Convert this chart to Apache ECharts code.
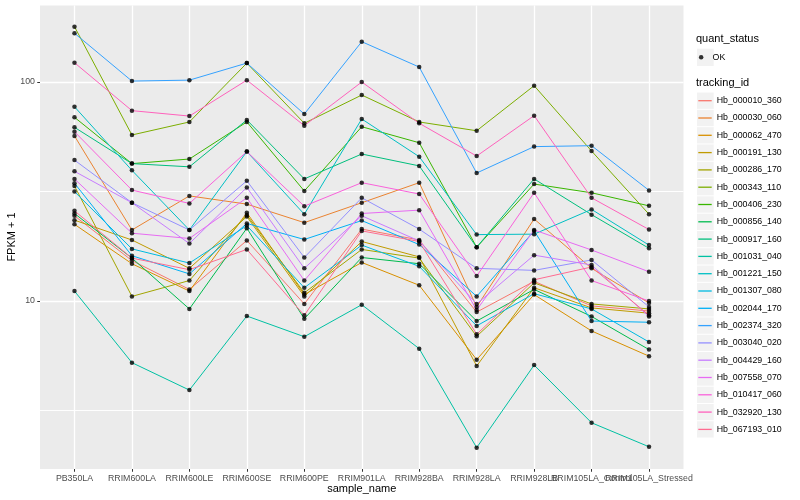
<!DOCTYPE html>
<html>
<head>
<meta charset="utf-8">
<script src="https://cdn.jsdelivr.net/npm/echarts@6/dist/echarts.min.js"></script>
<style>
html, body { margin: 0; padding: 0; background: #ffffff; }
#chart { width: 800px; height: 500px; }
</style>
</head>
<body>
<div id="chart"></div>
<script>
// ---------------- data ----------------
const categories = ["PB350LA", "RRIM600LA", "RRIM600LE", "RRIM600SE", "RRIM600PE", "RRIM901LA",
  "RRIM928BA", "RRIM928LA", "RRIM928LB", "RRIM105LA_Control", "RRIM105LA_Stressed"];

const trackingIds = ["Hb_000010_360", "Hb_000030_060", "Hb_000062_470", "Hb_000191_130", "Hb_000286_170",
  "Hb_000343_110", "Hb_000406_230", "Hb_000856_140", "Hb_000917_160", "Hb_001031_040",
  "Hb_001221_150", "Hb_001307_080", "Hb_002044_170", "Hb_002374_320", "Hb_003040_020",
  "Hb_004429_160", "Hb_007558_070", "Hb_010417_060", "Hb_032920_130", "Hb_067193_010"];

// FPKM + 1 per sample (order of categories)
const Hb_000010_360 = [24.5, 15.3, 11.3, 18.9, 9.7, 21.3, 19.0, 8.9, 12.3, 9.5, 9.0];
const Hb_000030_060 = [56.7, 21.1, 30.2, 27.7, 22.8, 28.1, 34.7, 9.4, 23.7, 14.1, 9.8];
const Hb_000062_470 = [22.4, 14.8, 11.1, 25.3, 10.7, 15.0, 11.8, 5.4, 10.7, 7.3, 5.6];
const Hb_000191_130 = [23.4, 19.0, 14.1, 24.3, 10.5, 18.7, 15.9, 5.05, 11.5, 9.3, 8.8];
const Hb_000286_170 = [33.5, 10.5, 12.4, 24.7, 10.9, 17.2, 15.7, 6.9, 12.1, 9.7, 9.2];
const Hb_000343_110 = [179, 57.3, 65.7, 122, 64.8, 87.2, 65.7, 59.9, 96.2, 48.4, 24.9];
const Hb_000406_230 = [69.0, 42.4, 44.5, 65.7, 31.8, 62.5, 52.8, 17.6, 34.2, 31.2, 27.2];
const Hb_000856_140 = [25.1, 15.7, 9.2, 21.5, 8.3, 15.8, 14.8, 8.1, 11.3, 8.5, 6.0];
const Hb_000917_160 = [62.1, 42.4, 41.0, 67.1, 36.1, 46.9, 41.4, 17.6, 36.1, 24.8, 17.4];
const Hb_001031_040 = [11.1, 5.23, 3.92, 8.54, 6.87, 9.62, 6.06, 2.14, 5.10, 2.78, 2.16];
const Hb_001221_150 = [77.1, 39.5, 21.1, 48.1, 24.9, 67.8, 45.6, 20.1, 20.2, 26.2, 18.0];
const Hb_001307_080 = [31.6, 17.3, 14.9, 22.1, 11.5, 18.0, 14.4, 7.7, 10.8, 9.2, 6.5];
const Hb_002044_170 = [34.5, 16.1, 13.3, 22.6, 19.1, 23.3, 18.1, 10.5, 20.9, 8.1, 8.0];
const Hb_002374_320 = [167, 101, 102, 122, 71.4, 152.8, 117, 38.4, 50.7, 51.2, 32.0];
const Hb_003040_020 = [44.0, 28.1, 21.1, 35.4, 15.8, 29.6, 21.3, 14.1, 13.8, 15.4, 9.4];
const Hb_004429_160 = [39.1, 28.1, 18.3, 33.0, 14.1, 24.5, 18.8, 9.7, 16.2, 14.6, 8.5];
const Hb_007558_070 = [36.1, 20.4, 19.3, 29.6, 12.4, 25.1, 26.0, 9.1, 21.1, 17.1, 13.6];
const Hb_010417_060 = [59.3, 32.1, 27.9, 48.1, 27.1, 34.7, 30.8, 13.0, 31.2, 12.4, 10.0];
const Hb_032920_130 = [122.5, 74.0, 69.9, 102, 63.2, 100, 64.8, 45.9, 70.2, 29.6, 21.2];
const Hb_067193_010 = [25.8, 15.7, 13.9, 17.2, 8.6, 20.9, 18.7, 7.05, 12.5, 14.3, 8.6];

const seriesValues = [Hb_000010_360, Hb_000030_060, Hb_000062_470, Hb_000191_130, Hb_000286_170,
  Hb_000343_110, Hb_000406_230, Hb_000856_140, Hb_000917_160, Hb_001031_040,
  Hb_001221_150, Hb_001307_080, Hb_002044_170, Hb_002374_320, Hb_003040_020,
  Hb_004429_160, Hb_007558_070, Hb_010417_060, Hb_032920_130, Hb_067193_010];

const quantStatus = ["OK"];
const yTickLabels = [10, 100];
const yMinorGrid = [Math.sqrt(10), Math.sqrt(1000)];   // ggplot minor breaks 10^0.5, 10^1.5

// ---------------- styles ----------------
const lineColors = ["#F8766D", "#EA8331", "#D89000", "#C09B00", "#A3A500", "#7CAE00", "#39B600",
  "#00BB4E", "#00BF7D", "#00C1A3", "#00BFC4", "#00BAE0", "#00B0F6", "#35A2FF", "#9590FF",
  "#C77CFF", "#E76BF3", "#FA62DB", "#FF62BC", "#FF6C91"];

const FONT = "'Liberation Sans', Arial, Helvetica, sans-serif";
const X_MIN = -0.6, X_MAX = 10.6;
const Y_MIN = 1.71, Y_MAX = 223.3;
const LEG_X = 697, LEG_STEP = 17.3, LEG_FIRST = 100.7;

const chart = echarts.init(document.getElementById('chart'), null, { renderer: 'canvas' });

// minor horizontal grid lines, drawn across the whole panel
const minorGridSeries = yMinorGrid.map((v, k) => ({
  type: 'line',
  name: '__minor_' + k,
  data: [[X_MIN, v], [X_MAX, v]],
  symbol: 'none',
  showSymbol: false,
  lineStyle: { color: '#FFFFFF', width: 1 },
  emphasis: { disabled: true },
  silent: true,
  z: 1
}));

const lineSeries = trackingIds.map((id, k) => ({
  type: 'line',
  name: id,
  data: seriesValues[k].map((v, i) => [i, v]),
  symbol: 'none',
  showSymbol: false,
  lineStyle: { color: lineColors[k], width: 1 },
  itemStyle: { color: lineColors[k] },
  emphasis: { disabled: true },
  silent: true,
  z: 2
}));

const pointData = [];
seriesValues.forEach(vals => vals.forEach((v, i) => pointData.push([i, v])));

const pointSeries = {
  type: 'scatter',
  name: quantStatus[0],
  data: pointData,
  symbol: 'circle',
  symbolSize: 4.5,
  itemStyle: { color: '#000000' },
  emphasis: { disabled: true },
  silent: true,
  z: 3
};

const allIdx = categories.map((c, i) => i);
const evenIdx = allIdx.filter(i => i % 2 === 0);
const oddIdx = allIdx.filter(i => i % 2 === 1);
const catLabel = v => { const i = Math.round(v); return categories[i] !== undefined ? categories[i] : ''; };

const keyRects = [];
keyRects.push({ type: 'rect', left: LEG_X, top: 57.3 - 8.65, shape: { width: 16.7, height: 17.3 },
  style: { fill: '#F2F2F2' }, z: 1, silent: true });
trackingIds.forEach((id, i) => {
  keyRects.push({ type: 'rect', left: LEG_X, top: LEG_FIRST + LEG_STEP * i - 8.15,
    shape: { width: 16.7, height: 16.3 }, style: { fill: '#F2F2F2' }, z: 1, silent: true });
});

const xLabelStyle = { fontSize: 8.8, color: '#4D4D4D', margin: 5, fontFamily: FONT,
  hideOverlap: false, showMinLabel: true, showMaxLabel: true, formatter: catLabel };

const option = {
  animation: false,
  backgroundColor: '#ffffff',
  textStyle: { fontFamily: FONT },
  grid: {
    left: 40, right: 116.5, top: 5.6, bottom: 31,
    show: true, backgroundColor: '#EBEBEB', borderWidth: 0,
    containLabel: false, outerBoundsMode: 'none'
  },
  xAxis: [
    {
      type: 'value', position: 'bottom',
      min: X_MIN, max: X_MAX,
      axisLine: { show: false, onZero: false },
      axisTick: { show: true, length: 2.75, lineStyle: { color: '#333333', width: 1 }, customValues: allIdx },
      axisLabel: Object.assign({ customValues: evenIdx }, xLabelStyle),
      splitLine: { show: true, lineStyle: { color: '#ffffff', width: 1.3 } }
    },
    {
      type: 'value', position: 'bottom', offset: 0,
      min: X_MIN, max: X_MAX,
      axisLine: { show: false, onZero: false },
      axisTick: { show: false },
      axisLabel: Object.assign({ customValues: oddIdx }, xLabelStyle),
      splitLine: { show: false }
    }
  ],
  yAxis: {
    type: 'log', logBase: 10, min: Y_MIN, max: Y_MAX,
    axisLine: { show: false, onZero: false },
    axisTick: { show: true, length: 2.75, lineStyle: { color: '#333333', width: 1 }, customValues: yTickLabels },
    axisLabel: {
      formatter: v => yTickLabels.some(t => Math.abs(v - t) < t * 1e-6) ? String(v) : '',
      fontSize: 8.8, color: '#4D4D4D', margin: 5, fontFamily: FONT
    },
    splitLine: { show: true, lineStyle: { color: '#ffffff', width: 1.3 } }
  },
  legend: [
    {
      data: quantStatus,
      orient: 'vertical',
      left: 698.9, top: 51.3, padding: 0,
      itemWidth: 12.8, itemHeight: 4.5,
      selectedMode: false,
      textStyle: { fontSize: 8.8, color: '#000000', fontFamily: FONT, lineHeight: 12 }
    },
    {
      data: trackingIds,
      orient: 'vertical',
      left: 698.3, top: LEG_FIRST - 6, padding: 0,
      icon: 'rect',
      itemWidth: 13.4, itemHeight: 1.3, itemGap: LEG_STEP - 12,
      selectedMode: false,
      textStyle: { fontSize: 8.8, color: '#000000', fontFamily: FONT, lineHeight: 12 }
    }
  ],
  graphic: keyRects.concat([
    { type: 'text', left: 696, top: 40.7 - 7, z: 5, silent: true,
      style: { text: 'quant_status', fontSize: 11, fill: '#000000', fontFamily: FONT } },
    { type: 'text', left: 696, top: 84.3 - 7, z: 5, silent: true,
      style: { text: 'tracking_id', fontSize: 11, fill: '#000000', fontFamily: FONT } },
    { type: 'text', x: 361.75, y: 489, z: 5, silent: true,
      style: { text: 'sample_name', fontSize: 11, fill: '#000000', fontFamily: FONT,
        textAlign: 'center', textVerticalAlign: 'middle' } },
    { type: 'text', x: 12, y: 237, rotation: Math.PI / 2, z: 5, silent: true,
      style: { text: 'FPKM + 1', fontSize: 11, fill: '#000000', fontFamily: FONT,
        textAlign: 'center', textVerticalAlign: 'middle' } }
  ]),
  series: minorGridSeries.concat(lineSeries, [pointSeries])
};

chart.setOption(option);
</script>
</body>
</html>
